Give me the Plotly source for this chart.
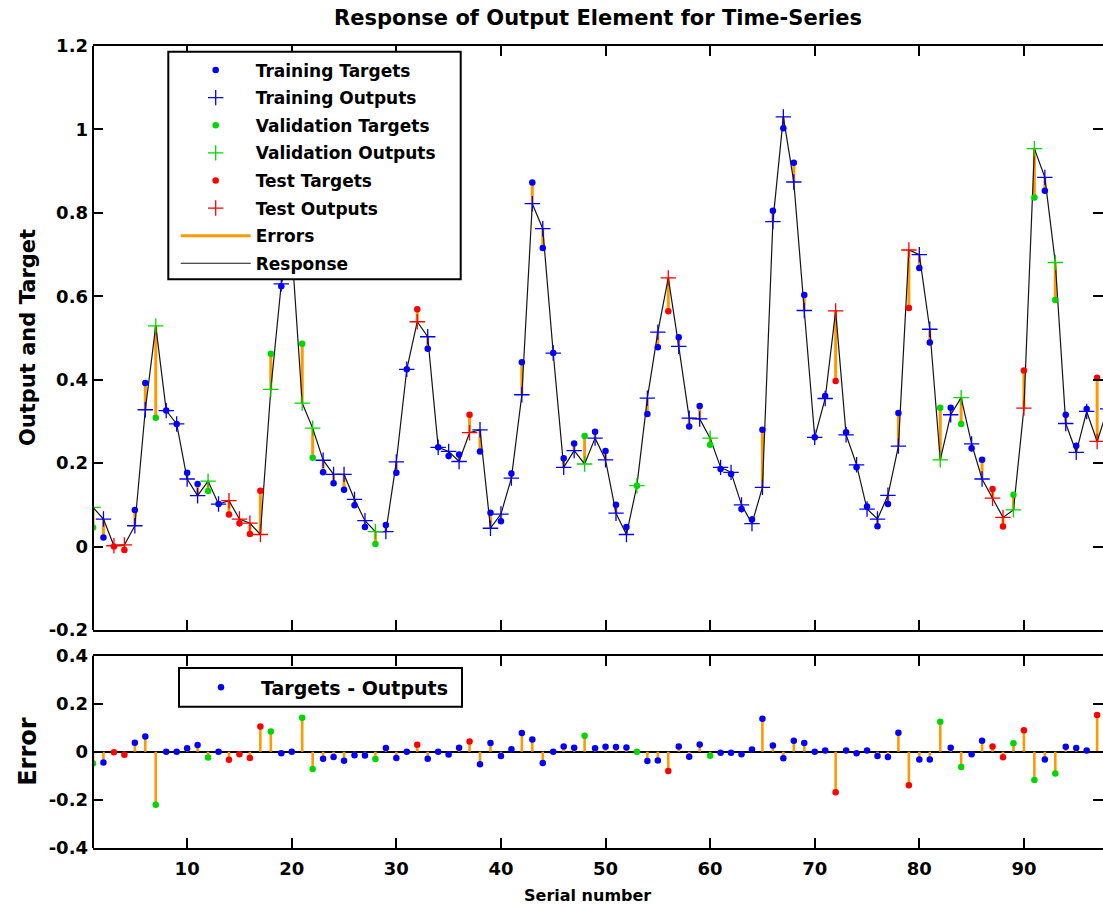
import plotly.graph_objects as go

serial = list(range(1, 99))

outputs = [
    0.094, 0.066, 0.002, 0.004, 0.050, 0.328, 0.529, 0.326, 0.294, 0.162,
    0.122, 0.157, 0.102, 0.110, 0.066, 0.056, 0.029, 0.377, 0.630, 0.715,
    0.344, 0.284, 0.207, 0.173, 0.173, 0.113, 0.062, 0.036, 0.036, 0.203,
    0.425, 0.539, 0.503, 0.238, 0.228, 0.204, 0.273, 0.280, 0.044, 0.078,
    0.164, 0.364, 0.822, 0.762, 0.464, 0.190, 0.230, 0.198, 0.260, 0.208,
    0.080, 0.029, 0.146, 0.356, 0.514, 0.644, 0.480, 0.308, 0.306, 0.260,
    0.190, 0.178, 0.100, 0.055, 0.142, 0.779, 1.030, 0.874, 0.566, 0.262,
    0.355, 0.565, 0.268, 0.196, 0.090, 0.066, 0.123, 0.241, 0.711, 0.700,
    0.521, 0.208, 0.316, 0.357, 0.246, 0.162, 0.116, 0.070, 0.088, 0.332,
    0.954, 0.885, 0.681, 0.295, 0.226, 0.324, 0.252, 0.330]

targets = [
    0.046, 0.022, 0.000, -0.008, 0.088, 0.392, 0.309, 0.326, 0.294, 0.177,
    0.150, 0.133, 0.102, 0.077, 0.056, 0.030, 0.134, 0.462, 0.624, 0.715,
    0.486, 0.213, 0.178, 0.152, 0.136, 0.099, 0.047, 0.006, 0.052, 0.177,
    0.425, 0.569, 0.474, 0.238, 0.217, 0.221, 0.316, 0.228, 0.081, 0.061,
    0.175, 0.442, 0.873, 0.716, 0.464, 0.212, 0.247, 0.265, 0.275, 0.229,
    0.100, 0.047, 0.146, 0.318, 0.478, 0.564, 0.502, 0.288, 0.337, 0.244,
    0.186, 0.174, 0.090, 0.065, 0.280, 0.805, 1.003, 0.920, 0.603, 0.262,
    0.361, 0.397, 0.274, 0.190, 0.096, 0.049, 0.102, 0.320, 0.572, 0.668,
    0.489, 0.333, 0.333, 0.294, 0.236, 0.208, 0.138, 0.048, 0.124, 0.422,
    0.837, 0.853, 0.591, 0.316, 0.242, 0.330, 0.405, 0.340]

# T = training, V = validation, S = test
groups = list(
    "VTSSTTVTTT"
    "TVTSSSSVTT"
    "VVTTTTTVTT"
    "TSTTTTSTTT"
    "TTTTTTTVTT"
    "TTVTTSTTTV"
    "TTTTTTTTTT"
    "TSTTTTTTST"
    "TVTVTTSSVS"
    "VTVTTTST")

x_ticks = [10, 20, 30, 40, 50, 60, 70, 80, 90]
y_ticks_top = [-0.2, 0, 0.2, 0.4, 0.6, 0.8, 1, 1.2]
y_text_top = ["-0.2", "0", "0.2", "0.4", "0.6", "0.8", "1", "1.2"]
y_ticks_bot = [-0.4, -0.2, 0, 0.2, 0.4]
y_text_bot = ["-0.4", "-0.2", "0", "0.2", "0.4"]

errors = [t - o for t, o in zip(targets, outputs)]

BLUE = "rgb(0,0,255)"
GREEN = "rgb(0,215,0)"
RED = "rgb(255,0,0)"
ORANGE = "rgb(255,153,0)"

group_info = [
    ("T", "Training", BLUE),
    ("V", "Validation", GREEN),
    ("S", "Test", RED),
]

fig = go.Figure()

# --- top panel: error bars
ex, ey = [], []
for i, t, o in zip(serial, targets, outputs):
    ex += [i, i, None]
    ey += [o, t, None]
fig.add_trace(go.Scatter(x=ex, y=ey, mode="lines", name="Errors",
                         line=dict(color=ORANGE, width=3),
                         xaxis="x", yaxis="y", legendrank=7, legendgroup="g7",
                         legend="legend"))
# response line
fig.add_trace(go.Scatter(x=serial, y=outputs, mode="lines", name="Response",
                         line=dict(color="rgb(20,20,20)", width=1.2),
                         xaxis="x", yaxis="y", legendrank=8, legendgroup="g8",
                         legend="legend"))

rank = 1
for code, label, col in group_info:
    xs = [i for i, g in zip(serial, groups) if g == code]
    ts = [t for t, g in zip(targets, groups) if g == code]
    os_ = [o for o, g in zip(outputs, groups) if g == code]
    fig.add_trace(go.Scatter(x=xs, y=ts, mode="markers", name=label + " Targets",
                             marker=dict(symbol="circle", size=6.5, color=col),
                             xaxis="x", yaxis="y", legendrank=rank,
                             legendgroup="g%d" % rank, legend="legend"))
    fig.add_trace(go.Scatter(x=xs, y=os_, mode="markers", name=label + " Outputs",
                             marker=dict(symbol="cross-thin", size=11,
                                         line=dict(color=col, width=1.3)),
                             xaxis="x", yaxis="y", legendrank=rank + 1,
                             legendgroup="g%d" % (rank + 1), legend="legend"))
    rank += 2

# --- bottom panel: stems
sx, sy = [], []
for i, e in zip(serial, errors):
    sx += [i, i, None]
    sy += [0, e, None]
fig.add_trace(go.Scatter(x=sx, y=sy, mode="lines", showlegend=False,
                         line=dict(color=ORANGE, width=2.6),
                         xaxis="x2", yaxis="y2"))
for code, label, col in group_info:
    xs = [i for i, g in zip(serial, groups) if g == code]
    es = [e for e, g in zip(errors, groups) if g == code]
    fig.add_trace(go.Scatter(x=xs, y=es, mode="markers",
                             name="Targets - Outputs",
                             showlegend=(code == "T"),
                             marker=dict(symbol="circle", size=6.5, color=col),
                             xaxis="x2", yaxis="y2", legend="legend2"))

FONT = "DejaVu Sans"
axis_common = dict(
    range=[1, 97.56], tickvals=x_ticks, ticks="inside", ticklen=10,
    tickwidth=1.5, tickcolor="black", showline=True, linecolor="black",
    linewidth=2, mirror="ticks", showgrid=False, zeroline=False,
)


def px_x(p):
    return (p - 93) / 1010


def px_y(p):
    return (848 - p) / 802


fig.update_layout(
    width=1103, height=908,
    margin=dict(l=93, r=0, t=46, b=60),
    paper_bgcolor="white", plot_bgcolor="white",
    font=dict(family=FONT, size=18, color="black", weight="bold"),
    title=dict(text="Response of Output Element for Time-Series",
               x=0.5, xref="paper", xanchor="center",
               y=1 - 18 / 908, yref="container", yanchor="middle",
               font=dict(family=FONT, size=21, weight="bold", color="black")),
    xaxis=dict(domain=[0, 1], anchor="y", showticklabels=False, **axis_common),
    xaxis2=dict(domain=[0, 1], anchor="y2", matches="x", showticklabels=True,
                ticklabelstandoff=3, **axis_common),
    yaxis=dict(domain=[0.2718, 1], anchor="x", range=[-0.2, 1.2],
               tickvals=y_ticks_top, ticktext=y_text_top,
               ticks="inside", ticklen=10, tickwidth=1.5, tickcolor="black",
               showline=False, mirror="ticks", showgrid=False, zeroline=False,
               ticklabelstandoff=4),
    yaxis2=dict(domain=[0, 0.2398], anchor="x2", range=[-0.4, 0.4],
                tickvals=y_ticks_bot, ticktext=y_text_bot,
                ticks="inside", ticklen=10, tickwidth=1.5, tickcolor="black",
                showline=False, mirror="ticks", showgrid=False,
                zeroline=True, zerolinecolor="black", zerolinewidth=1.5,
                ticklabelstandoff=4),
    legend=dict(x=px_x(175.7), y=px_y(52.5),
                xanchor="left", yanchor="top", bgcolor="rgba(0,0,0,0)",
                borderwidth=0, tracegroupgap=2.5,
                font=dict(family=FONT, size=17, weight="bold", color="black"),
                itemwidth=70, traceorder="grouped"),
    legend2=dict(x=px_x(181), y=px_y(668.5),
                 xanchor="left", yanchor="top", bgcolor="rgba(0,0,0,0)",
                 borderwidth=0,
                 font=dict(family=FONT, size=19, weight="bold", color="black"),
                 itemwidth=70),
    shapes=[
        dict(type="line", xref="paper", yref="y domain", x0=0, x1=0, y0=0, y1=1,
             line=dict(color="black", width=2)),
        dict(type="line", xref="paper", yref="y2 domain", x0=0, x1=0, y0=0, y1=1,
             line=dict(color="black", width=2)),
        # legend frames
        dict(type="rect", xref="paper", yref="paper", layer="above",
             x0=px_x(168.3), x1=px_x(460.7), y0=px_y(279.3), y1=px_y(51.7),
             fillcolor="white", line=dict(color="black", width=2)),
        dict(type="rect", xref="paper", yref="paper", layer="above",
             x0=px_x(179), x1=px_x(462), y0=px_y(706.7), y1=px_y(668),
             fillcolor="white", line=dict(color="black", width=2)),
    ],
    annotations=[
        dict(text="Output and Target", xref="paper", yref="y domain",
             x=px_x(28), y=0.5, textangle=-90, showarrow=False,
             xanchor="center", yanchor="middle",
             font=dict(family=FONT, size=21, weight="bold", color="black")),
        dict(text="Error", xref="paper", yref="y2 domain",
             x=px_x(28), y=0.5, textangle=-90, showarrow=False,
             xanchor="center", yanchor="middle",
             font=dict(family=FONT, size=24, weight="bold", color="black")),
        dict(text="Serial number", xref="paper", yref="paper",
             x=0.49, y=px_y(895), showarrow=False,
             xanchor="center", yanchor="middle",
             font=dict(family=FONT, size=16, weight="bold", color="black")),
    ],
)

fig.write_html("out.html")
